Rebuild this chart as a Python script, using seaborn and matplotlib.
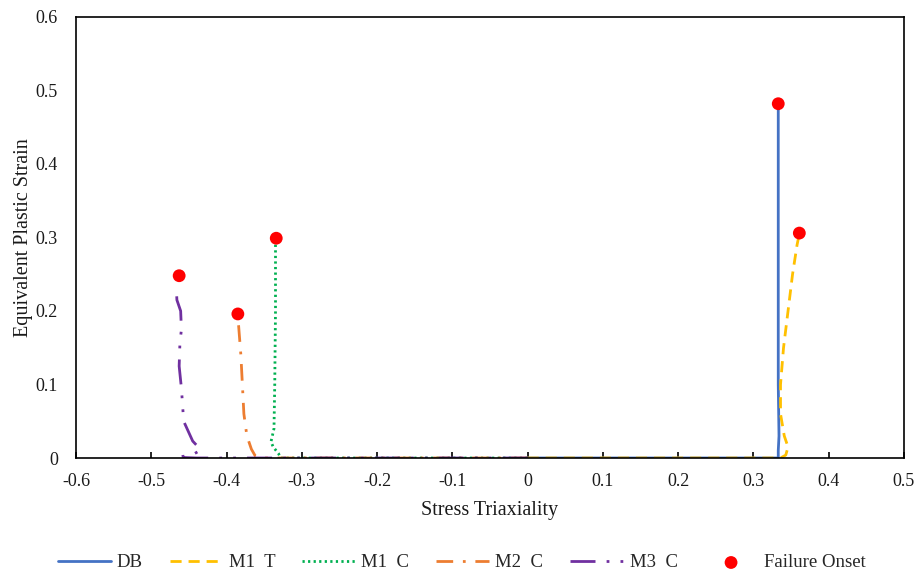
import matplotlib
matplotlib.use("Agg")
import matplotlib.pyplot as plt
import seaborn as sns
import pandas as pd

# ---- data ----
db_x = [0.0, 0.10, 0.20, 0.30, 0.333, 0.333, 0.334, 0.333, 0.333, 0.333]
db_y = [0.0, 0.0, 0.0, 0.0, 0.0, 0.01, 0.03, 0.10, 0.30, 0.482]

m1t_x = [0.0, 0.10, 0.20, 0.30, 0.336, 0.343, 0.346, 0.341, 0.336, 0.336, 0.340, 0.346, 0.352, 0.358, 0.360]
m1t_y = [0.0, 0.0, 0.0, 0.0, 0.0, 0.004, 0.015, 0.03, 0.06, 0.10, 0.15, 0.20, 0.25, 0.29, 0.300]

m1c_x = [0.0, -0.10, -0.20, -0.30, -0.328, -0.331, -0.338, -0.341, -0.337, -0.336, -0.335, -0.335]
m1c_y = [0.0, 0.0, 0.0, 0.0, 0.0, 0.006, 0.015, 0.022, 0.04, 0.10, 0.20, 0.292]

m2c_x = [0.0, -0.10, -0.20, -0.30, -0.355, -0.362, -0.367, -0.373, -0.377, -0.379, -0.381, -0.384, -0.385]
m2c_y = [0.0, 0.0, 0.0, 0.0, 0.0, 0.003, 0.012, 0.03, 0.06, 0.10, 0.14, 0.18, 0.19]

m3c_x = [0.0, -0.10, -0.20, -0.30, -0.40, -0.44, -0.466, -0.446, -0.434, -0.445, -0.457, -0.460, -0.463, -0.462, -0.460, -0.461, -0.466, -0.467]
m3c_y = [0.0, 0.0, 0.0, 0.0, 0.0, 0.0, 0.001, 0.004, 0.011, 0.023, 0.05, 0.095, 0.125, 0.156, 0.175, 0.20, 0.215, 0.235]

fail_x = [0.333, 0.361, -0.334, -0.385, -0.463]
fail_y = [0.482, 0.306, 0.299, 0.196, 0.248]

series_names = ["DB", "M1  T", "M1  C", "M2  C", "M3  C"]
series_x = [db_x, m1t_x, m1c_x, m2c_x, m3c_x]
series_y = [db_y, m1t_y, m1c_y, m2c_y, m3c_y]
colors = ["#4472C4", "#FFC000", "#00B050", "#ED7D31", "#7030A0"]
styles = ["-", (0, (4, 2.5)), (0, (0.8, 1.2)), (0, (6, 3.5, 1, 3.5)), (0, (9, 4, 1, 4, 1, 4))]

xticks = [-0.6, -0.5, -0.4, -0.3, -0.2, -0.1, 0, 0.1, 0.2, 0.3, 0.4, 0.5]
yticks = [0, 0.1, 0.2, 0.3, 0.4, 0.5, 0.6]
xtick_labels = ["-0.6", "-0.5", "-0.4", "-0.3", "-0.2", "-0.1", "0", "0.1", "0.2", "0.3", "0.4", "0.5"]
ytick_labels = ["0", "0.1", "0.2", "0.3", "0.4", "0.5", "0.6"]

sns.set_theme(style="white")
plt.rcParams["font.family"] = ["Liberation Serif", "DejaVu Serif"]

txt = "#1a1a1a"
fig = plt.figure(figsize=(9.14, 5.72), dpi=100)
ax = fig.add_axes([0.0832, 0.1993, 0.9058, 0.7710])

for name, xs, ys, c, ls in zip(series_names, series_x, series_y, colors, styles):
    df = pd.DataFrame({"x": xs, "y": ys})
    sns.lineplot(data=df, x="x", y="y", sort=False, estimator=None, ax=ax,
                 color=c, linestyle=ls, linewidth=2.0, label=name)

fdf = pd.DataFrame({"x": fail_x, "y": fail_y})
sns.scatterplot(data=fdf, x="x", y="y", ax=ax, color="#FF0000", s=85,
                edgecolor="none", zorder=5, label="Failure Onset")

ax.set_xlim(-0.6, 0.5)
ax.set_ylim(0, 0.6)
ax.set_xticks(xticks)
ax.set_xticklabels(xtick_labels)
ax.set_yticks(yticks)
ax.set_yticklabels(ytick_labels)
ax.tick_params(axis="x", bottom=True, direction="in", length=4, width=1.2, color="black",
               pad=11, labelsize=13, labelcolor=txt)
ax.tick_params(axis="y", left=False, length=0, pad=13, labelsize=13, labelcolor=txt)
for sp in ax.spines.values():
    sp.set_color("black")
    sp.set_linewidth(1.2)
ax.grid(False)
ax.set_xlabel("Stress Triaxiality", fontsize=14.5, color=txt, labelpad=8)
ax.set_ylabel("Equivalent Plastic Strain", fontsize=14.5, color=txt, labelpad=2)

handles, labels = ax.get_legend_handles_labels()
if ax.legend_:
    ax.legend_.remove()
fig.legend(handles, labels, loc="center left", bbox_to_anchor=(0.063, 0.016),
           ncol=6, frameon=False, fontsize=13.5, handlelength=2.83,
           handletextpad=0.32, columnspacing=1.44, borderaxespad=0, borderpad=0)

fig.savefig("out.png", dpi=100)
